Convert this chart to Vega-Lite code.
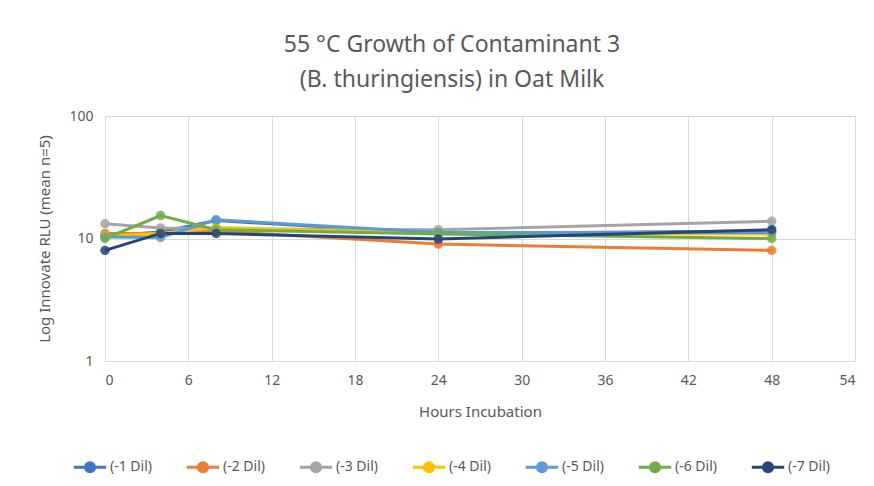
{
  "$schema": "https://vega.github.io/schema/vega-lite/v6.json",
  "width": 750,
  "height": 245,
  "autosize": {"type": "none"},
  "padding": {"left": 105, "top": 116, "right": 19, "bottom": 125},
  "background": "white",
  "title": {
    "text": ["55 °C Growth of Contaminant 3", "(B. thuringiensis)  in Oat Milk"],
    "anchor": "middle",
    "frame": "group",
    "dx": -28,
    "offset": 17,
    "fontSize": 23,
    "lineHeight": 35,
    "font": "Noto Sans",
    "fontWeight": "normal",
    "color": "#595959"
  },
  "data": {
    "values": [
      {"dil": "(-1 Dil)", "h": 0, "rlu": 10.5},
      {"dil": "(-1 Dil)", "h": 4, "rlu": 11.3},
      {"dil": "(-1 Dil)", "h": 8, "rlu": 14.0},
      {"dil": "(-1 Dil)", "h": 24, "rlu": 11.0},
      {"dil": "(-1 Dil)", "h": 48, "rlu": 11.5},
      {"dil": "(-2 Dil)", "h": 0, "rlu": 11.0},
      {"dil": "(-2 Dil)", "h": 4, "rlu": 11.0},
      {"dil": "(-2 Dil)", "h": 8, "rlu": 11.5},
      {"dil": "(-2 Dil)", "h": 24, "rlu": 9.0},
      {"dil": "(-2 Dil)", "h": 48, "rlu": 8.0},
      {"dil": "(-3 Dil)", "h": 0, "rlu": 13.2},
      {"dil": "(-3 Dil)", "h": 4, "rlu": 12.2},
      {"dil": "(-3 Dil)", "h": 8, "rlu": 12.0},
      {"dil": "(-3 Dil)", "h": 24, "rlu": 11.8},
      {"dil": "(-3 Dil)", "h": 48, "rlu": 13.8},
      {"dil": "(-4 Dil)", "h": 0, "rlu": 10.5},
      {"dil": "(-4 Dil)", "h": 4, "rlu": 11.0},
      {"dil": "(-4 Dil)", "h": 8, "rlu": 12.3},
      {"dil": "(-4 Dil)", "h": 24, "rlu": 11.0},
      {"dil": "(-4 Dil)", "h": 48, "rlu": 10.9},
      {"dil": "(-5 Dil)", "h": 0, "rlu": 10.3},
      {"dil": "(-5 Dil)", "h": 4, "rlu": 10.2},
      {"dil": "(-5 Dil)", "h": 8, "rlu": 14.2},
      {"dil": "(-5 Dil)", "h": 24, "rlu": 11.2},
      {"dil": "(-5 Dil)", "h": 48, "rlu": 11.2},
      {"dil": "(-6 Dil)", "h": 0, "rlu": 10.0},
      {"dil": "(-6 Dil)", "h": 4, "rlu": 15.4},
      {"dil": "(-6 Dil)", "h": 8, "rlu": 11.8},
      {"dil": "(-6 Dil)", "h": 24, "rlu": 10.9},
      {"dil": "(-6 Dil)", "h": 48, "rlu": 10.0},
      {"dil": "(-7 Dil)", "h": 0, "rlu": 8.0},
      {"dil": "(-7 Dil)", "h": 4, "rlu": 11.0},
      {"dil": "(-7 Dil)", "h": 8, "rlu": 11.0},
      {"dil": "(-7 Dil)", "h": 24, "rlu": 9.9},
      {"dil": "(-7 Dil)", "h": 48, "rlu": 11.8}
    ]
  },
  "mark": {"type": "line", "strokeWidth": 3, "point": {"filled": true, "size": 90, "opacity": 0.85}},
  "encoding": {
    "x": {
      "field": "h", "type": "quantitative",
      "scale": {"domain": [0, 54], "nice": false},
      "axis": {"values": [0, 6, 12, 18, 24, 30, 36, 42, 48, 54], "title": "Hours Incubation", "titlePadding": 17}
    },
    "y": {
      "field": "rlu", "type": "quantitative",
      "scale": {"type": "log", "domain": [1, 100], "nice": false},
      "axis": {"values": [1, 10, 100], "format": "d", "title": "Log Innovate RLU (mean n=5)", "titlePadding": 16}
    },
    "color": {
      "field": "dil", "type": "nominal",
      "scale": {
        "domain": ["(-1 Dil)", "(-2 Dil)", "(-3 Dil)", "(-4 Dil)", "(-5 Dil)", "(-6 Dil)", "(-7 Dil)"],
        "range": ["#4472C4", "#ED7D31", "#A5A5A5", "#FFC000", "#5B9BD5", "#70AD47", "#264478"]
      },
      "legend": {
        "title": null,
        "orient": "none",
        "legendX": -33,
        "legendY": 333,
        "direction": "horizontal",
        "columns": 7,
        "columnPadding": 28,
        "symbolType": "M-1,0H1M0.28,0A0.28,0.28 0 1,1 -0.28,0A0.28,0.28 0 1,1 0.28,0Z",
        "symbolSize": 1050,
        "symbolStrokeWidth": 3,
        "labelFontSize": 14,
        "labelFont": "Noto Sans",
        "labelColor": "#595959",
        "labelOffset": 2,
        "encode": {"symbols": {"update": {"fill": {"scale": "color", "field": "value"}, "opacity": {"value": 1}}}}
      }
    }
  },
  "config": {
    "view": {"stroke": "#d9d9d9"},
    "axis": {
      "grid": true,
      "gridColor": "#d9d9d9",
      "gridWidth": 1,
      "domainColor": "#d9d9d9",
      "ticks": false,
      "labelFont": "Noto Sans",
      "labelFontSize": 14,
      "labelColor": "#595959",
      "labelPadding": 12,
      "titleFont": "Noto Sans",
      "titleFontSize": 15,
      "titleFontWeight": "normal",
      "titleColor": "#595959"
    }
  }
}
